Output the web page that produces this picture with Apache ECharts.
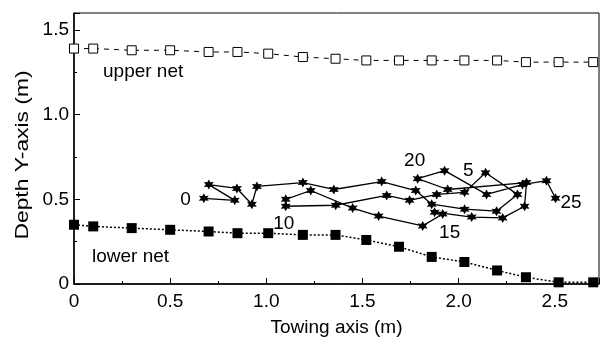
<!DOCTYPE html>
<html><head><meta charset="utf-8">
<script src="https://cdn.jsdelivr.net/npm/echarts@6/dist/echarts.min.js"></script>
<style>html,body{margin:0;padding:0;background:#fff}#c{width:600px;height:342px}</style>
</head><body><div id="c"></div>
<script>
// Towing positions of the net markers (m)
var netX = [0, 0.10, 0.30, 0.50, 0.70, 0.85, 1.01, 1.19, 1.36, 1.52, 1.69, 1.86, 2.03, 2.20, 2.35, 2.52, 2.70];
var upperY = [1.39, 1.39, 1.38, 1.38, 1.37, 1.37, 1.36, 1.34, 1.33, 1.32, 1.32, 1.32, 1.32, 1.32, 1.31, 1.31, 1.31];
var lowerY = [0.35, 0.34, 0.33, 0.32, 0.31, 0.30, 0.30, 0.29, 0.29, 0.26, 0.22, 0.16, 0.13, 0.08, 0.04, 0.01, 0.01];
// Trajectory of the tracked point
var trajX = [0.675, 0.836, 0.701, 0.847, 0.925, 0.951, 1.190, 1.351, 1.600, 1.777, 1.860, 2.031, 2.197, 2.306, 2.140,
             2.031, 1.886, 1.745, 1.626, 1.361, 1.101, 1.101, 1.231, 1.449, 1.584, 1.813, 1.917, 1.875, 2.068, 2.229,
             2.343, 2.353, 1.943, 1.787, 1.927, 2.145, 2.332, 2.457, 2.504];
var trajY = [0.506, 0.494, 0.587, 0.564, 0.471, 0.576, 0.599, 0.558, 0.605, 0.552, 0.471, 0.442, 0.430, 0.529, 0.657,
             0.541, 0.529, 0.494, 0.523, 0.465, 0.459, 0.500, 0.552, 0.448, 0.401, 0.343, 0.413, 0.424, 0.395, 0.390,
             0.459, 0.599, 0.558, 0.622, 0.669, 0.529, 0.587, 0.610, 0.506];
var trajLabelIdx = [0, 14, 20, 26, 33, 38];
var trajLabelText = ['0', '5', '10', '15', '20', '25'];
var xTicks = [0, 0.5, 1.0, 1.5, 2.0, 2.5];
var yTicks = [0, 0.5, 1.0, 1.5];

var FONT = 'Liberation Sans';
var star = 'path://M0 -10 L2.6 -4.5 L8.66 -5 L5.2 0 L8.66 5 L2.6 4.5 L0 10 L-2.6 4.5 L-8.66 5 L-5.2 0 L-8.66 -5 L-2.6 -4.5 Z';
// label placement styles (layout, not data)
var labelStyles = [
  { position: 'left', distance: 8, offset: [0, 1] },
  { position: 'left', distance: 4, offset: [-3, -2] },
  { position: 'bottom', distance: 3, offset: [-2, 0] },
  { position: 'bottom', distance: 4, offset: [7, 0] },
  { position: 'top', distance: 3, offset: [-3, 0] },
  { position: 'right', distance: 0, offset: [0, 4] }
];

function zip(a, b) { return a.map(function (v, i) { return [v, b[i]]; }); }
var trajData = trajX.map(function (v, i) {
  var k = trajLabelIdx.indexOf(i);
  var item = { value: [v, trajY[i]] };
  if (k >= 0) {
    item.label = Object.assign({ show: true, formatter: trajLabelText[k],
      fontSize: 19, fontFamily: FONT, color: '#000' }, labelStyles[k]);
  }
  return item;
});
function fmt(v) { return v === 0 ? '0' : v.toFixed(1); }

var chart = echarts.init(document.getElementById('c'), null, { renderer: 'canvas' });
chart.setOption({
  animation: false,
  backgroundColor: '#fff',
  grid: { left: 74, right: 1, top: 13, bottom: 54, show: true, borderColor: '#000', borderWidth: 1 },
  xAxis: {
    type: 'value', min: 0, max: 2.73, interval: 0.5,
    name: 'Towing axis (m)', nameLocation: 'middle', nameGap: 34,
    nameTextStyle: { fontSize: 19, fontFamily: FONT, color: '#000' },
    axisLine: { lineStyle: { color: '#000', width: 1.5 } },
    axisTick: { inside: true, length: 6, lineStyle: { color: '#000' } },
    minorTick: { show: true, splitNumber: 2, length: 3, lineStyle: { color: '#000' } },
    axisLabel: { fontSize: 19, fontFamily: FONT, color: '#000', margin: 8, showMaxLabel: false, formatter: fmt },
    splitLine: { show: false }
  },
  yAxis: {
    type: 'value', min: 0, max: 1.6, interval: 0.5,
    axisLine: { lineStyle: { color: '#000', width: 1.5 } },
    axisTick: { inside: true, length: 6, lineStyle: { color: '#000' } },
    minorTick: { show: true, splitNumber: 2, length: 3, lineStyle: { color: '#000' } },
    axisLabel: { fontSize: 19, fontFamily: FONT, color: '#000', margin: 5, showMaxLabel: false, formatter: fmt },
    splitLine: { show: false }
  },
  series: [
    { name: 'upper net', type: 'line', data: zip(netX, upperY), symbol: 'rect', symbolSize: 9,
      itemStyle: { color: '#fff', borderColor: '#000', borderWidth: 1 },
      lineStyle: { color: '#000', width: 1, type: [5, 5] } },
    { name: 'lower net', type: 'line', data: zip(netX, lowerY), symbol: 'rect', symbolSize: 10,
      itemStyle: { color: '#000' },
      lineStyle: { color: '#000', width: 1.5, type: [2, 2] } },
    { name: 'trajectory', type: 'line', data: trajData, symbol: star, symbolSize: 10,
      itemStyle: { color: '#000' }, lineStyle: { color: '#000', width: 1.3 } }
  ],
  graphic: [
    { type: 'text', x: 23, y: 155, rotation: Math.PI / 2, scaleX: 1.2,
      style: { text: 'Depth Y-axis (m)', fontSize: 19, fontFamily: FONT, fill: '#000', align: 'center', verticalAlign: 'middle' } },
    { type: 'text', left: 103, top: 62, style: { text: 'upper net', fontSize: 19, fontFamily: FONT, fill: '#000' } },
    { type: 'text', left: 92, top: 247, style: { text: 'lower net', fontSize: 19, fontFamily: FONT, fill: '#000' } }
  ]
});
</script></body></html>
